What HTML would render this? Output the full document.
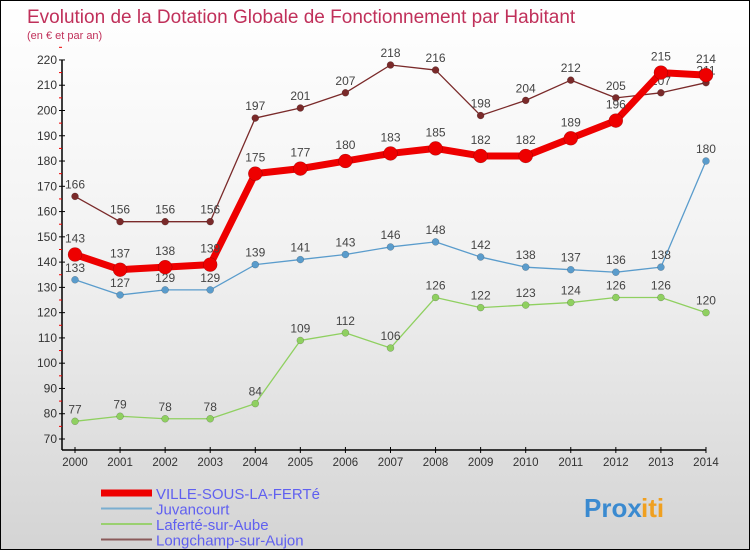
<!DOCTYPE html>
<html><head><meta charset="utf-8"><style>
body{margin:0;width:750px;height:550px;overflow:hidden;font-family:"Liberation Sans",sans-serif}
#wrap{position:relative;width:748px;height:548px;border:1px solid #000;background:linear-gradient(#ffffff 0%,#f2f2f2 45%,#d4d4d4 100%)}
</style></head><body>
<div id="wrap">
<svg id="c" width="748" height="548"></svg>
</div>
<script>
const years=[2000,2001,2002,2003,2004,2005,2006,2007,2008,2009,2010,2011,2012,2013,2014];
const villeVals=[143,137,138,139,175,177,180,183,185,182,182,189,196,215,214];
const juvVals=[133,127,129,129,139,141,143,146,148,142,138,137,136,138,180];
const lafVals=[77,79,78,78,84,109,112,106,126,122,123,124,126,126,120];
const longVals=[166,156,156,156,197,201,207,218,216,198,204,212,205,207,211];
const yTicks=[70,80,90,100,110,120,130,140,150,160,170,180,190,200,210,220];
const NS="http://www.w3.org/2000/svg";
const svg=document.getElementById('c');
const X=i=>74+i*45.07;
const Y=v=>438-(v-70)*2.527;
function mk(t,a,p){const e=document.createElementNS(NS,t);for(const k in a)e.setAttribute(k,a[k]);(p||svg).appendChild(e);return e;}
let t=mk('text',{x:26,y:22,fill:'#c0305a','font-size':19});t.textContent='Evolution de la Dotation Globale de Fonctionnement par Habitant';

t=mk('text',{x:26,y:38,fill:'#c0305a','font-size':11});t.textContent='(en € et par an)';

// axes
let ax=mk('line',{x1:61,y1:Y(220),x2:61,y2:449,stroke:'#000','stroke-width':1.5});

ax=mk('line',{x1:61,y1:449,x2:X(14),y2:449,stroke:'#000','stroke-width':1.5});

yTicks.forEach(v=>{mk('line',{x1:58,x2:64,y1:Y(v),y2:Y(v),stroke:'#000'});
 mk('line',{x1:58,x2:61,y1:Y(v+5),y2:Y(v+5),stroke:'#e00'});
 const l=mk('text',{x:56,y:Y(v)+4,'text-anchor':'end','font-size':12,fill:'#333'});l.textContent=v;
 });
years.forEach((y,i)=>{mk('line',{x1:X(i),x2:X(i),y1:446,y2:452,stroke:'#000'});
 const l=mk('text',{x:X(i),y:465,'text-anchor':'middle','font-size':11.5,fill:'#333'});l.textContent=y;
 });
function series(vals,color,lw,r,name,labels){
 const g=mk('g',{});
 mk('polyline',{points:vals.map((v,i)=>X(i)+','+Y(v)).join(' '),fill:'none',stroke:color,'stroke-width':lw,'stroke-linejoin':'round'},g);
 vals.forEach((v,i)=>{const c=mk('circle',{cx:X(i),cy:Y(v),r:r,fill:color,stroke:'rgba(0,0,0,0.3)','stroke-width':0.5},g);
  
  if(labels){const l=mk('text',{x:X(i),y:Y(v)-8-(r>5?4:0),'text-anchor':'middle','font-size':12,fill:'#444'},g);l.textContent=v;}});
}
series(lafVals,'#8fd060',1.3,3.5,'laferte-series',true);
series(juvVals,'#5a9ccc',1.3,3.5,'juvancourt-series',true);
series(longVals,'#7a2a2a',1.3,3.5,'longchamp-series',true);
series(villeVals,'#ee0000',7,7,'ville-series',true);
// legend
const leg=[['VILLE-SOUS-LA-FERTé','#ee0000',7],['Juvancourt','#7aaed0',2],['Laferté-sur-Aube','#9ad070',2],['Longchamp-sur-Aujon','#8a5a5a',2]];
leg.forEach((d,i)=>{const g=mk('g',{});
 const yy=492+i*15.5;mk('line',{x1:100,x2:151,y1:yy,y2:yy,stroke:d[1],'stroke-width':d[2]},g);
 const l=mk('text',{x:155,y:yy+6,'font-size':15,fill:'#6060f0'},g);l.textContent=d[0];});
t=mk('text',{x:583,y:516,'font-size':26,'font-weight':'bold',fill:'#3a8ad0'});t.textContent='Prox';
let t2=mk('text',{x:640,y:516,'font-size':26,'font-weight':'bold',fill:'#f0a020'});t2.textContent='iti';

</script>
</body></html>
